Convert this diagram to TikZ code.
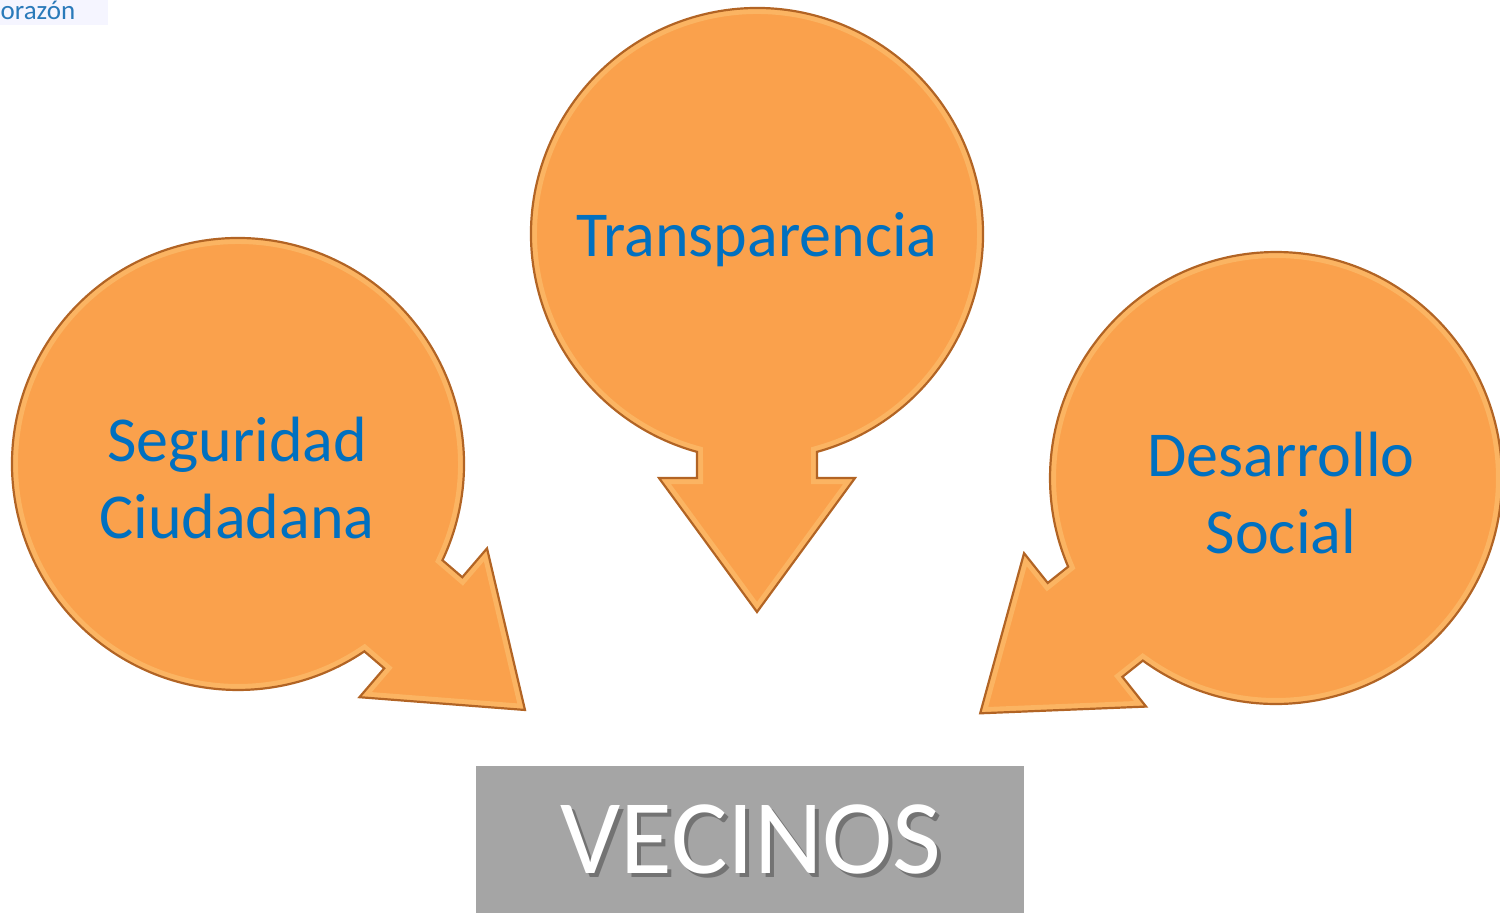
\documentclass[tikz,border=0pt]{standalone}
\usepackage{fontspec}
\setmainfont{Carlito}

\definecolor{bubbleorange}{RGB}{250,161,76}
\definecolor{bubbleedge}{RGB}{178,100,36}
\definecolor{bubbleband}{RGB}{251,180,98}
\definecolor{labelblue}{RGB}{0,112,192}
\definecolor{boxgray}{RGB}{165,165,165}
\definecolor{logoblue}{RGB}{42,122,186}

% circle with an arrow leaving it along +x
\newcommand{\bubbleshape}{(15.4:226) arc[start angle=15.4, end angle=344.6, radius=226]
  -- (244,-60) -- (244,-98) -- (378,0) -- (244,98) -- (244,60) -- cycle}
% white text over a soft grey copy
\newcommand{\shadowed}[1]{\rlap{\raisebox{-4pt}{\hspace{4pt}\textcolor{black!55}{#1}}}#1}

\begin{document}
\begin{tikzpicture}[
    x = 1pt, y = -1pt,
    line join=miter,
    bubble/.style = {fill=bubbleorange},
    bubbleline/.style = {draw=bubbleedge, line width=2.2pt},
    bubbletext/.style = {labelblue, align=center, font=\fontsize{64}{77}\selectfont},
    vecinostext/.style = {white, font=\fontsize{106}{120}\selectfont}
]

\useasboundingbox (0,0) rectangle (1500,913);

\fill[blue!4] (0,0) rectangle (108,25);
\node[logoblue, anchor=base west, inner sep=0pt, font=\fontsize{27}{30}\selectfont] (logo) at (0.5,19) {orazón};

% the three bubbles
\foreach \cx/\cy/\ang in {757/234/-90, 238/464/-40.6, 1276/478/-141.5}{
  \begin{scope}[shift={(\cx,\cy)}, rotate=\ang, x=1pt, y=1pt]
    \fill[bubble] \bubbleshape;
    \begin{scope}
      \clip \bubbleshape;
      \draw[bubbleband, line width=12pt] \bubbleshape;
    \end{scope}
    \draw[bubbleline] \bubbleshape;
  \end{scope}
}

\node[bubbletext] (transparencia) at (757,240) {Transparencia};
\node[bubbletext] (seguridad) at (237,478) {Seguridad\\Ciudadana};
\node[bubbletext] (desarrollo) at (1281,493) {Desarrollo\\Social};

\fill[boxgray] (476,766) rectangle (1024,913);
\node[vecinostext] (vecinos) at (751,841) {\shadowed{VECINOS}};

\end{tikzpicture}
\end{document}
